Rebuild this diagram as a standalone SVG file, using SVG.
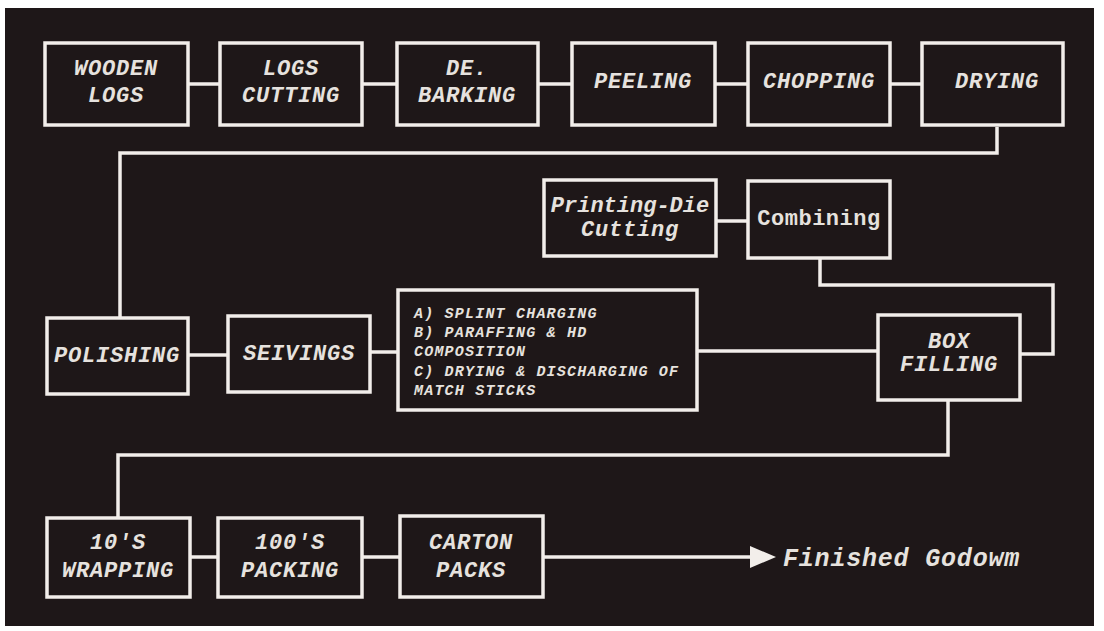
<svg xmlns="http://www.w3.org/2000/svg" width="1104" height="631" viewBox="0 0 1104 631">
<defs>
<style>
.box{fill:#1e1718;stroke:#f2eeea;stroke-width:3.5}
.ln{fill:none;stroke:#f2eeea;stroke-width:3.5}
.t{font-family:"Liberation Mono","Courier New",monospace;font-weight:bold;font-style:italic;font-size:22px;letter-spacing:0.8px;fill:#e6e2de;text-anchor:middle}
.s{font-family:"Liberation Mono","Courier New",monospace;font-weight:bold;font-style:italic;font-size:15px;letter-spacing:1.2px;fill:#e6e2de}
.u{font-style:normal}
</style>
</defs>
<rect x="0" y="0" width="1104" height="631" fill="#ffffff"/>
<rect x="5" y="8" width="1089" height="618" fill="#1e1718"/>
<g id="connectors">
<line class="ln" x1="188" y1="84" x2="220" y2="84"/>
<line class="ln" x1="362" y1="84" x2="397" y2="84"/>
<line class="ln" x1="538" y1="84" x2="572" y2="84"/>
<line class="ln" x1="715" y1="84" x2="748" y2="84"/>
<line class="ln" x1="890" y1="84" x2="922" y2="84"/>
<polyline class="ln" points="997,127 997,153 120,153 120,318"/>
<line class="ln" x1="188" y1="355" x2="228" y2="355"/>
<line class="ln" x1="370" y1="352" x2="398" y2="352"/>
<line class="ln" x1="697" y1="351" x2="878" y2="351"/>
<line class="ln" x1="716" y1="221" x2="748" y2="221"/>
<polyline class="ln" points="820,258 820,285 1053,285 1053,354 1020,354"/>
<polyline class="ln" points="948,400 948,455 118,455 118,518"/>
<line class="ln" x1="190" y1="557" x2="218" y2="557"/>
<line class="ln" x1="362" y1="557" x2="400" y2="557"/>
<line class="ln" x1="543" y1="557" x2="752" y2="557"/>
<path d="M750,546 L776,557 L750,568 Z" fill="#f2eeea"/>
</g>
<g id="wooden-logs"><rect class="box" x="45" y="43" width="143" height="82"/><text class="t" x="116" y="75">WOODEN</text><text class="t" x="116" y="102">LOGS</text></g>
<g id="logs-cutting"><rect class="box" x="220" y="43" width="142" height="82"/><text class="t" x="291" y="75">LOGS</text><text class="t" x="291" y="102">CUTTING</text></g>
<g id="de-barking"><rect class="box" x="397" y="43" width="141" height="82"/><text class="t" x="467" y="75">DE.</text><text class="t" x="467" y="102">BARKING</text></g>
<g id="peeling"><rect class="box" x="572" y="43" width="143" height="82"/><text class="t" x="643" y="88">PEELING</text></g>
<g id="chopping"><rect class="box" x="748" y="43" width="142" height="82"/><text class="t" x="819" y="88">CHOPPING</text></g>
<g id="drying"><rect class="box" x="922" y="43" width="141" height="82"/><text class="t" x="997" y="88">DRYING</text></g>
<g id="polishing"><rect class="box" x="47" y="318" width="141" height="76"/><text class="t" x="117" y="362">POLISHING</text></g>
<g id="seivings"><rect class="box" x="228" y="316" width="142" height="76"/><text class="t" x="299" y="360">SEIVINGS</text></g>
<g id="process"><rect class="box" x="398" y="290" width="299" height="120"/>
<text class="s" x="414" y="318">A) SPLINT CHARGING</text>
<text class="s" x="414" y="337">B) PARAFFING &amp; HD</text>
<text class="s" x="414" y="356">COMPOSITION</text>
<text class="s" x="414" y="376">C) DRYING &amp; DISCHARGING OF</text>
<text class="s" x="414" y="395">MATCH STICKS</text></g>
<g id="printing-die"><rect class="box" x="544" y="180" width="172" height="76"/><text class="t" x="630" y="212" style="letter-spacing:0">Printing-Die</text><text class="t" x="630" y="236">Cutting</text></g>
<g id="combining"><rect class="box" x="748" y="181" width="142" height="77"/><text class="t u" x="819" y="225" style="letter-spacing:0.5px">Combining</text></g>
<g id="box-filling"><rect class="box" x="878" y="315" width="142" height="85"/><text class="t" x="949" y="348">BOX</text><text class="t" x="949" y="371">FILLING</text></g>
<g id="wrapping"><rect class="box" x="47" y="518" width="143" height="79"/><text class="t" x="118" y="549">10'S</text><text class="t" x="118" y="577">WRAPPING</text></g>
<g id="packing"><rect class="box" x="218" y="518" width="144" height="79"/><text class="t" x="290" y="549">100'S</text><text class="t" x="290" y="577">PACKING</text></g>
<g id="carton"><rect class="box" x="400" y="516" width="143" height="81"/><text class="t" x="471" y="549">CARTON</text><text class="t" x="471" y="577">PACKS</text></g>
<g id="finished"><text class="t" x="783" y="566" style="text-anchor:start;font-size:25px;letter-spacing:0.8px">Finished Godowm</text></g>
</svg>
